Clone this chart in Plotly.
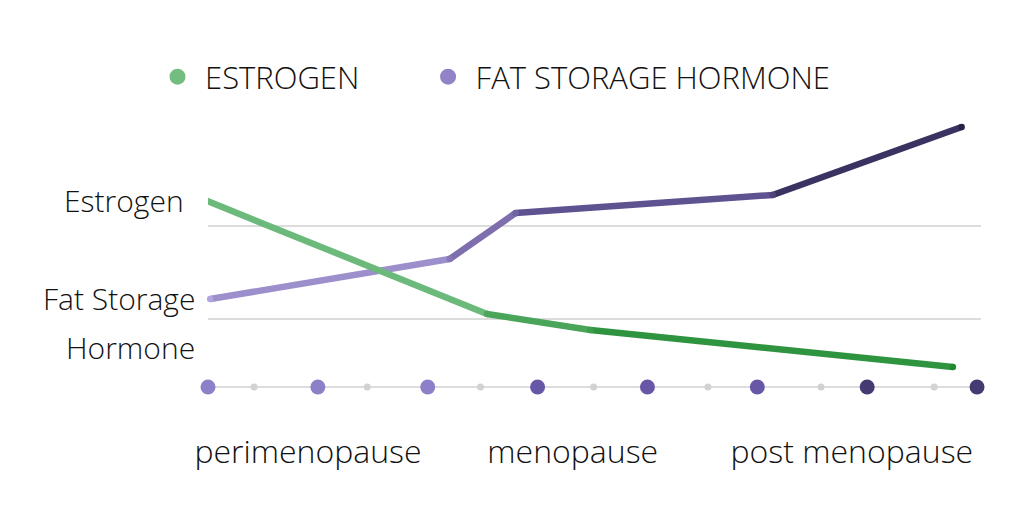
import plotly.graph_objects as go

# values (x: 0..7 = big axis dots, y: height above baseline)
estrogen_x = [-0.03, 2.54, 3.48, 6.78]
estrogen_y = [187, 73, 57, 20]
estrogen_seg_colors = ["#6cba7b", "#4aa55a", "#2f9440"]
estrogen_end_colors = ["#7cc38a", "#4fa55e", "#3d9d4c", "#1f8a2f"]

fat_x = [0.02, 2.20, 2.80, 5.14, 6.86]
fat_y = [88, 128, 174, 192, 260]
fat_seg_colors = ["#9d8fcc", "#7e6eae", "#5f5290", "#3a3260"]
fat_end_colors = ["#b2a5df", "#8777b8", "#7463a3", "#4f4378", "#272342"]

big_dot_x = [0, 1, 2, 3, 4, 5, 6, 7]
big_dot_colors = ["#8e80c8", "#8e80c8", "#8e80c8", "#6757a6",
                  "#6757a6", "#6757a6", "#453a72", "#453a72"]
small_dot_x = [0.42, 1.45, 2.48, 3.51, 4.55, 5.58, 6.61]

stage_x = [0.91, 3.32, 5.86]
stage_labels = ["perimenopause", "menopause", "post menopause"]

grid_y = [68, 161]

font = "Open Sans"
ink = "#111111"

fig = go.Figure()

# baseline with dots
fig.add_trace(go.Scatter(x=[big_dot_x[0], big_dot_x[-1]], y=[0, 0], mode="lines",
                         line=dict(color="#dddddd", width=2),
                         showlegend=False, cliponaxis=False))
fig.add_trace(go.Scatter(x=small_dot_x, y=[0] * len(small_dot_x), mode="markers",
                         marker=dict(color="#d2d2d2", size=7),
                         showlegend=False, cliponaxis=False))
fig.add_trace(go.Scatter(x=big_dot_x, y=[0] * len(big_dot_x), mode="markers",
                         marker=dict(color=big_dot_colors, size=15),
                         showlegend=False, cliponaxis=False))

# lines drawn segment by segment to fake the colour gradient
for xs, ys, segc, endc in [(fat_x, fat_y, fat_seg_colors, fat_end_colors),
                           (estrogen_x, estrogen_y, estrogen_seg_colors, estrogen_end_colors)]:
    for i in range(len(xs) - 1):
        fig.add_trace(go.Scatter(x=xs[i:i + 2], y=ys[i:i + 2], mode="lines",
                                 line=dict(color=segc[i], width=6.5),
                                 showlegend=False, cliponaxis=False))
    fig.add_trace(go.Scatter(x=xs, y=ys, mode="markers",
                             marker=dict(color=endc, size=6.5),
                             showlegend=False, cliponaxis=False))

# legend entries, one legend each so the gap between them can be set
fig.add_trace(go.Scatter(x=[None], y=[None], mode="markers", name="ESTROGEN",
                         marker=dict(color="#72bd7f", size=20), legend="legend"))
fig.add_trace(go.Scatter(x=[None], y=[None], mode="markers", name="FAT STORAGE HORMONE",
                         marker=dict(color="#9282c8", size=20), legend="legend2"))

label_font = dict(family=font, size=30, color=ink, weight=300)
fig.add_annotation(text="Estrogen", xref="paper", yref="paper", x=-0.029, y=0.697,
                   xanchor="right", yanchor="middle", showarrow=False, font=label_font)
fig.add_annotation(text="Fat Storage", xref="paper", yref="paper", x=-0.014, y=0.373,
                   xanchor="right", yanchor="middle", showarrow=False, font=label_font)
fig.add_annotation(text="Hormone", xref="paper", yref="paper", x=-0.014, y=0.207,
                   xanchor="right", yanchor="middle", showarrow=False, font=label_font)

legend_font = dict(family=font, size=31, color=ink, weight=300)
fig.update_layout(
    width=1029, height=510,
    margin=dict(l=200, r=56, t=102, b=108),
    paper_bgcolor="white", plot_bgcolor="white",
    hovermode=False,
    showlegend=True,
    legend=dict(orientation="h", x=-0.075, y=1.11, xanchor="left", yanchor="middle",
                font=legend_font, itemsizing="trace", itemwidth=45),
    legend2=dict(orientation="h", x=0.275, y=1.11, xanchor="left", yanchor="middle",
                 font=legend_font, itemsizing="trace", itemwidth=45),
    xaxis=dict(range=[0, 7.036], showgrid=False, zeroline=False, showline=False,
               tickvals=stage_x, ticktext=stage_labels, ticks="",
               ticklabelstandoff=20,
               tickfont=dict(family=font, size=32, color=ink, weight=300)),
    yaxis=dict(range=[-23, 277], tickvals=grid_y, showticklabels=False,
               showgrid=True, gridcolor="#dcdcdc", gridwidth=2,
               zeroline=False, showline=False),
)

fig.write_html("out.html")
